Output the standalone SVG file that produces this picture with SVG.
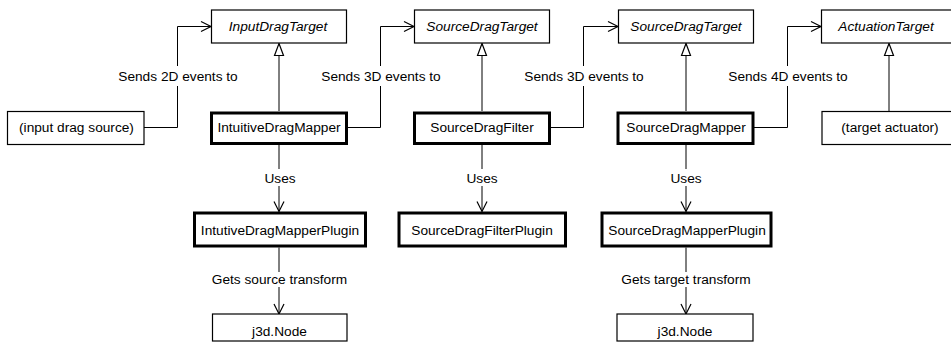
<svg xmlns="http://www.w3.org/2000/svg" width="951" height="350" viewBox="0 0 951 350">
<style>
.box{fill:#fff;stroke:#000;stroke-width:1.2}
.main{stroke-width:3}
text{font-family:"Liberation Sans",Arial,sans-serif;font-size:13.7px;text-anchor:middle;fill:#000}
.abs{font-style:italic}
.conn{fill:none;stroke:#000;stroke-width:1}
.nav{marker-end:url(#open)}
.inh{marker-end:url(#tri)}
</style>
<defs>
<marker id="open" markerUnits="userSpaceOnUse" markerWidth="12" markerHeight="12" refX="10" refY="5" orient="auto" overflow="visible">
<path d="M0,0 L10,5 L0,10" fill="none" stroke="#000" stroke-width="1.2"/>
</marker>
<marker id="tri" markerUnits="userSpaceOnUse" markerWidth="14" markerHeight="10" refX="12" refY="4.5" orient="auto" overflow="visible">
<path d="M0,0 L12,4.5 L0,9 Z" fill="#fff" stroke="#000" stroke-width="1.2"/>
</marker>
</defs>
<g id="connectors">
<path class="conn nav" d="M144,127.5 H177.5 V86 M177.5,66 V26.5 H211"/>
<path class="conn nav" d="M348,127.5 H380.5 V86 M380.5,66 V26.5 H414"/>
<path class="conn nav" d="M551,127.5 H583.5 V86 M583.5,66 V26.5 H618"/>
<path class="conn nav" d="M754,127.5 H787.5 V86 M787.5,66 V26.5 H821"/>
<path class="conn inh" d="M279,111 V43.5"/>
<path class="conn inh" d="M482,111 V43.5"/>
<path class="conn inh" d="M686,111 V43.5"/>
<path class="conn inh" d="M889,111 V43.5"/>
<path class="conn nav" d="M279,145 V169 M279,186 V211.5"/>
<path class="conn nav" d="M482,145 V169 M482,186 V211.5"/>
<path class="conn nav" d="M686,145 V169 M686,186 V211.5"/>
<path class="conn nav" d="M279,247.5 V272 M279,287 V314"/>
<path class="conn nav" d="M686,247.5 V272 M686,287 V314"/>
<text x="178" y="81">Sends 2D events to</text>
<text x="381" y="81">Sends 3D events to</text>
<text x="584" y="81">Sends 3D events to</text>
<text x="788" y="81">Sends 4D events to</text>
<text x="280" y="182.5">Uses</text>
<text x="482" y="182.5">Uses</text>
<text x="686" y="182.5">Uses</text>
<text x="279.5" y="284">Gets source transform</text>
<text x="686" y="284">Gets target transform</text>
</g>
<g id="InputDragTarget"><rect class="box" x="211.5" y="10" width="135" height="33"/><text class="abs" x="278" y="31">InputDragTarget</text></g>
<g id="SourceDragTarget1"><rect class="box" x="414.5" y="10" width="135" height="33"/><text class="abs" x="482" y="31">SourceDragTarget</text></g>
<g id="SourceDragTarget2"><rect class="box" x="618.5" y="10" width="135" height="33"/><text class="abs" x="686" y="31">SourceDragTarget</text></g>
<g id="ActuationTarget"><rect class="box" x="821.5" y="10" width="135" height="33"/><text class="abs" x="886" y="31">ActuationTarget</text></g>
<g id="InputDragSource"><rect class="box" x="7.5" y="111.5" width="136.5" height="33"/><text x="76.5" y="132">(input drag source)</text></g>
<g id="IntuitiveDragMapper"><rect class="box main" x="211.5" y="113" width="135" height="30.5"/><text x="279" y="132">IntuitiveDragMapper</text></g>
<g id="SourceDragFilter"><rect class="box main" x="414.5" y="113" width="135" height="30.5"/><text x="482" y="132">SourceDragFilter</text></g>
<g id="SourceDragMapper"><rect class="box main" x="618" y="113" width="135" height="30.5"/><text x="686" y="132">SourceDragMapper</text></g>
<g id="TargetActuator"><rect class="box" x="822" y="111.5" width="135" height="33"/><text x="890" y="132">(target actuator)</text></g>
<g id="IntutiveDragMapperPlugin"><rect class="box main" x="194.5" y="213" width="171" height="33"/><text x="280" y="234.5">IntutiveDragMapperPlugin</text></g>
<g id="SourceDragFilterPlugin"><rect class="box main" x="399" y="213" width="166.5" height="33"/><text x="482" y="234.5">SourceDragFilterPlugin</text></g>
<g id="SourceDragMapperPlugin"><rect class="box main" x="602" y="213" width="169" height="33"/><text x="687" y="234.5">SourceDragMapperPlugin</text></g>
<g id="J3dNode1"><rect class="box" x="212.5" y="314" width="134.5" height="27"/><text x="279.5" y="335.5">j3d.Node</text></g>
<g id="J3dNode2"><rect class="box" x="617" y="314" width="136" height="27"/><text x="685" y="335.5">j3d.Node</text></g>
</svg>
